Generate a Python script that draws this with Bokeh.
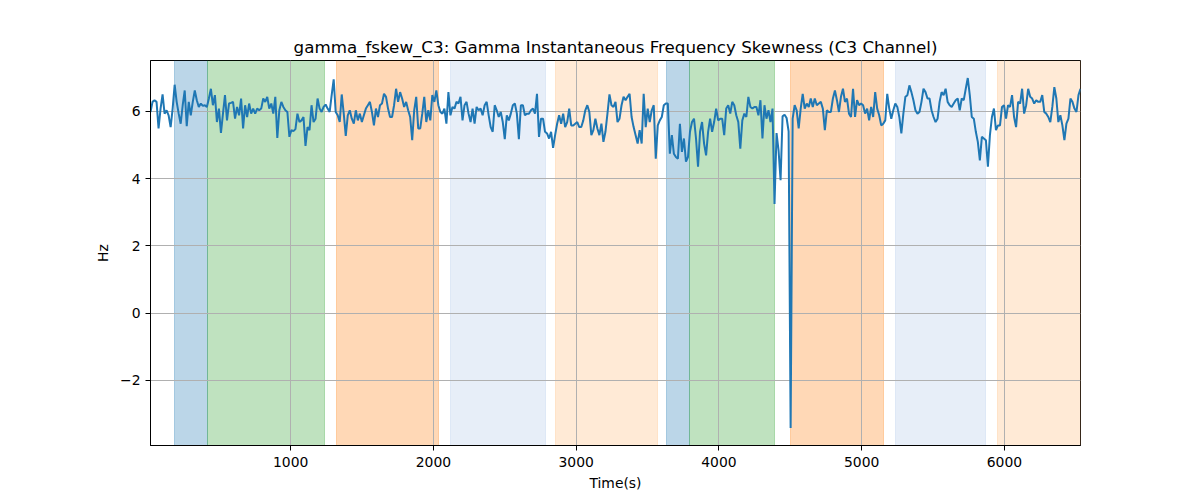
import numpy as np
from bokeh.plotting import figure
from bokeh.models import ColumnDataSource, Range1d, FixedTicker
from bokeh.embed import file_html
from bokeh.resources import INLINE

# time axis of the recording (seconds)
t_start = 18
t_end = 6533

# gamma instantaneous frequency skewness, read in chunks left to right
seg_1 = [5.98, 6.28, 6.33, 6.28, 5.49, 6.08, 6.50, 5.93, 6.03, 5.88,
         5.53, 6.08, 6.79, 6.28, 5.93, 5.63, 6.18, 6.62, 5.56, 6.28,
         5.88, 6.28, 6.62, 6.33, 6.13, 6.23, 6.16, 6.18, 6.13, 6.38,
         6.67, 6.18, 6.48, 5.68, 6.08, 5.36, 5.93, 6.48, 5.73, 6.23,
         6.25, 6.28, 5.78, 6.13, 5.88, 6.38, 5.49, 6.18, 5.83, 6.23,
         5.93, 6.08, 5.93, 6.08, 6.03, 6.08, 6.38, 6.28, 6.43, 6.08,
         6.23, 5.93, 6.43, 5.21, 6.03, 6.28, 6.13, 6.03, 5.98, 5.24,
         5.44, 5.41, 5.47, 5.93, 5.68]
seg_2 = [5.73, 5.83, 4.97, 5.53, 5.44, 6.18, 5.68, 5.78, 6.38, 6.08,
         5.98, 6.13, 6.20, 6.08, 5.98, 6.48, 6.95, 5.98, 5.88, 5.68,
         6.50, 5.93, 5.27, 5.88, 6.03, 5.78, 5.63, 6.03, 5.73, 5.93,
         5.68, 5.88, 6.08, 6.18, 6.28, 5.98, 5.58, 6.08, 5.83, 6.18,
         6.23, 6.52, 6.43, 6.08, 5.83, 5.83, 6.18, 6.67, 6.28, 6.57,
         6.38, 6.13, 6.28, 6.03, 5.83, 5.14, 6.03, 6.43, 5.49, 5.49,
         5.93, 6.43, 5.68, 6.03, 5.73, 6.48, 6.28, 6.62, 6.18, 5.98,
         5.93, 6.08, 5.63, 6.57, 5.88, 6.13, 6.08, 6.28]
seg_3 = [6.23, 6.43, 5.73, 6.18, 6.28, 5.93, 5.68, 6.08, 5.63, 6.13,
         6.03, 6.08, 5.88, 6.18, 6.28, 5.88, 5.53, 5.39, 6.18, 6.03,
         5.83, 5.98, 5.68, 5.17, 5.88, 5.73, 5.93, 6.18, 6.23, 5.93,
         5.17, 6.18, 6.18, 5.88, 5.93, 5.93, 6.03, 6.08, 5.93, 6.52,
         5.24, 5.78, 5.78, 5.39, 5.34, 5.19, 5.39, 4.91, 5.29, 5.63,
         5.88, 5.63, 5.93, 5.53, 5.68, 6.08, 5.58, 5.58, 5.63, 5.68,
         5.53, 5.53, 5.73, 6.03, 6.18, 5.98, 5.29, 5.44, 5.78, 5.49,
         5.29, 5.63, 5.09, 5.39, 5.93, 6.50, 6.18, 6.13]
seg_4 = [6.28, 5.68, 5.78, 6.18, 6.43, 6.33, 6.43, 6.52, 5.83, 5.53,
         5.29, 5.04, 5.44, 5.04, 6.52, 5.53, 6.08, 5.68, 6.03, 6.18,
         4.59, 5.58, 5.73, 5.83, 6.18, 6.23, 6.23, 4.74, 5.29, 4.74,
         4.64, 4.59, 5.63, 4.79, 5.19, 4.50, 4.64, 5.39, 5.68, 5.78,
         5.19, 4.35, 5.39, 5.68, 5.04, 4.69, 5.39, 5.78, 5.39, 5.68,
         6.08, 5.73, 5.78, 5.78, 5.29, 6.08, 6.18, 5.93, 6.28, 6.18,
         5.88, 5.68, 4.89, 5.73, 5.93, 5.83, 6.43, 6.13, 6.08, 6.13,
         6.13, 5.88, 6.33, 5.19, 6.18, 5.78, 6.03, 5.68]
seg_5 = [6.08, 3.24, 5.35, 4.84, 3.95, 5.85, 5.90, 5.80, 5.40, -3.42,
         5.78, 6.18, 6.03, 5.49, 6.08, 6.52, 6.08, 6.23, 6.13, 6.38,
         6.13, 6.38, 6.18, 6.23, 6.28, 6.08, 5.44, 6.03, 5.98, 5.98,
         6.38, 6.62, 6.33, 5.98, 6.43, 6.67, 6.28, 6.38, 5.93, 5.83,
         6.67, 5.83, 6.33, 6.18, 6.23, 6.18, 5.93, 6.08, 5.73, 6.13,
         5.83, 6.57, 6.08, 5.88, 5.58, 5.63, 5.73, 6.52, 6.08, 5.78,
         6.03, 6.23, 6.13, 5.83, 5.34, 5.93, 6.43, 6.48, 6.77, 6.57,
         6.33, 6.03, 5.93, 5.98, 6.28, 6.67]
seg_6 = [6.57, 6.38, 6.38, 6.03, 5.83, 5.68, 5.78, 6.28, 6.57, 6.48,
         6.67, 6.28, 6.18, 6.13, 6.23, 6.33, 6.38, 6.03, 6.38, 6.33,
         6.67, 6.99, 6.48, 5.83, 5.78, 5.39, 5.09, 4.54, 5.24, 5.19,
         5.14, 4.35, 5.29, 5.83, 6.08, 5.44, 5.58, 5.58, 6.13, 6.18,
         5.78, 6.18, 6.13, 6.48, 5.83, 5.53, 6.28, 6.23, 6.67, 5.93,
         6.18, 6.67, 6.43, 6.38, 6.23, 6.33, 6.28, 6.28, 6.48, 5.98,
         5.93, 5.83, 5.68, 6.13, 6.72, 6.38, 5.68, 5.88, 5.58, 5.14,
         5.63, 5.78, 6.38, 6.28, 6.08, 5.98, 6.48, 6.67]

# shaded stage intervals (seconds)
span_start = [184, 418, 1320, 2120, 2858, 3635, 3796, 4504, 5234, 5949]
span_end = [418, 1234, 2038, 2786, 3571, 3796, 4387, 5154, 5865, 6533]
span_color = ["#1f77b4", "#2ca02c", "#ff7f0e", "#aec7e8", "#ffbb78",
              "#1f77b4", "#2ca02c", "#ff7f0e", "#aec7e8", "#ffbb78"]

x_ticks = [1000, 2000, 3000, 4000, 5000, 6000]
y_ticks = [-2, 0, 2, 4, 6]

values = seg_1 + seg_2 + seg_3 + seg_4 + seg_5 + seg_6
times = np.linspace(t_start, t_end, len(values))

ymin, ymax = min(values), max(values)
pad = (ymax - ymin) * 0.05

p = figure(
    title="gamma_fskew_C3: Gamma Instantaneous Frequency Skewness (C3 Channel)",
    x_axis_label="Time(s)", y_axis_label="Hz",
    frame_width=930, frame_height=385,
    min_border_left=150, min_border_right=112, min_border_top=60, min_border_bottom=47,
    x_range=Range1d(t_start, t_end), y_range=Range1d(ymin - pad, ymax + pad),
    output_backend="svg", toolbar_location=None,
)

spans = ColumnDataSource(dict(x0=span_start, x1=span_end, color=span_color))
p.vstrip(x0="x0", x1="x1", fill_color="color", fill_alpha=0.3,
         line_color="color", line_alpha=0.3, line_width=1, source=spans,
         level="underlay")

p.line(times, values, line_color="#1f77b4", line_width=2)

font = "DejaVu Sans"
p.title.align = "center"
p.title.text_font = font
p.title.text_font_size = "16.7px"
p.title.text_font_style = "normal"
p.title.text_color = "black"
p.title.standoff = 7

p.xaxis.ticker = FixedTicker(ticks=x_ticks)
p.yaxis.ticker = FixedTicker(ticks=y_ticks)
p.yaxis.major_label_overrides = {-2: "\u22122"}
for ax in (p.xaxis, p.yaxis):
    ax.axis_label_text_font = font
    ax.axis_label_text_font_size = "13.9px"
    ax.axis_label_text_font_style = "normal"
    ax.axis_label_text_color = "black"
    ax.major_label_text_font = font
    ax.major_label_text_font_size = "13.9px"
    ax.major_label_text_color = "black"
    ax.minor_tick_line_color = None
    ax.major_tick_out = 5
    ax.major_tick_in = 0
    ax.major_label_standoff = 5
    ax.axis_line_color = "black"
    ax.major_tick_line_color = "black"
p.xaxis.major_label_standoff = 6
p.xaxis.axis_label_standoff = 5
p.yaxis.axis_label_standoff = 6

p.xgrid.grid_line_color = "#b0b0b0"
p.ygrid.grid_line_color = "#b0b0b0"
p.xgrid.grid_line_width = 1
p.ygrid.grid_line_width = 1
p.outline_line_color = "black"
p.outline_line_alpha = 1
p.background_fill_color = "white"

open("out.html", "w").write(file_html(p, INLINE))
